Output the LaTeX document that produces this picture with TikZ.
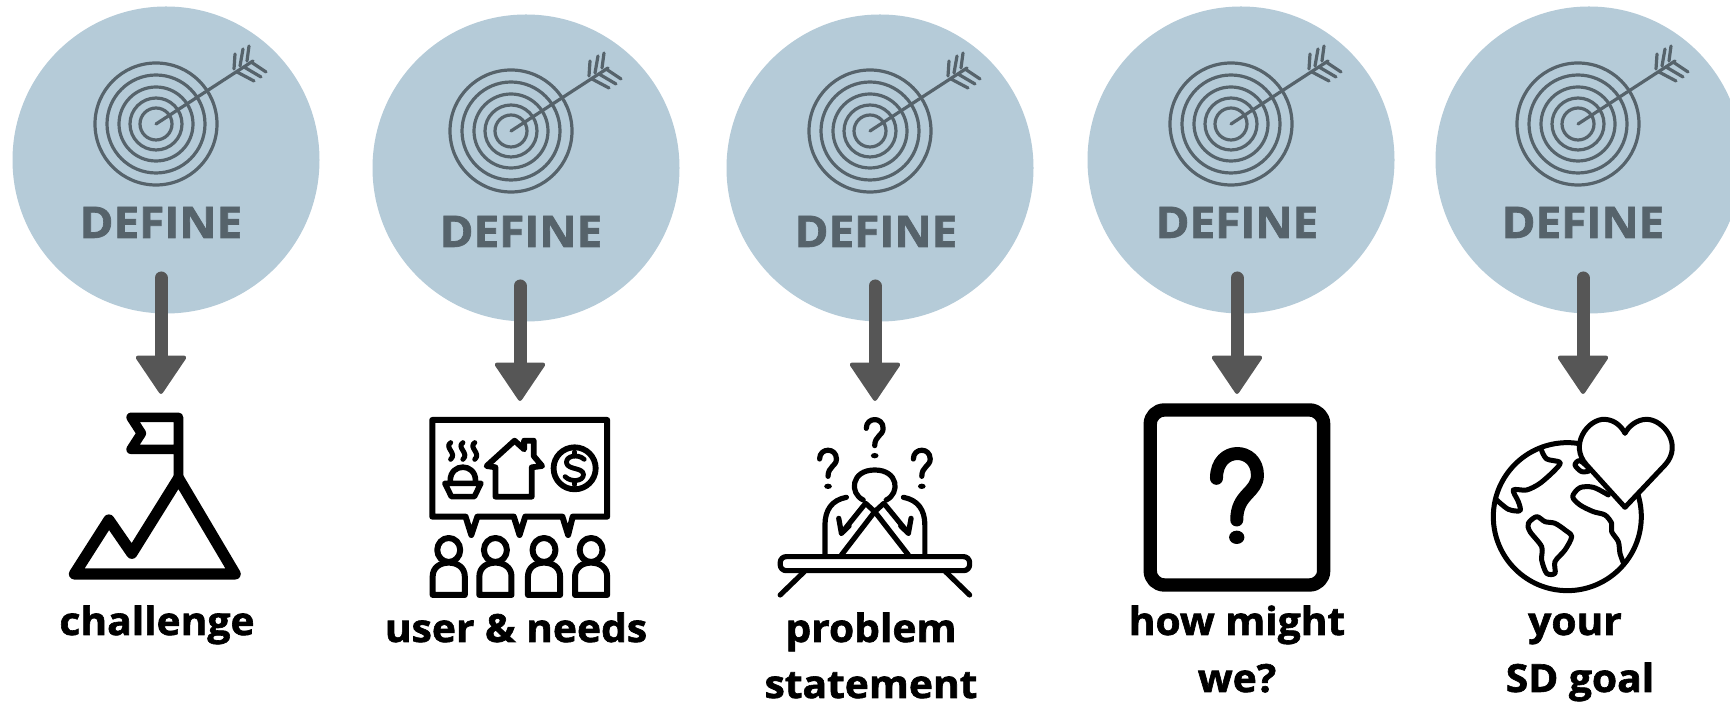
\documentclass[tikz,border=0pt]{standalone}
\usepackage{fontspec}
\setmainfont{Open Sans}[BoldFeatures={FakeBold=1.6,FakeStretch=1.05}]
\usetikzlibrary{arrows.meta}
\definecolor{discblue}{HTML}{B5CBD8}
\definecolor{slate}{HTML}{56636B}
\definecolor{arrowgrey}{HTML}{565656}
\newcommand{\smallquery}[2]{%
  \begin{scope}[shift={(#1,#2)}]
    \draw[ico] (-22,-30) .. controls (-22,-65) and (22,-65) .. (22,-30) .. controls (22,-8) and (0,-8) .. (0,22);
    \fill[black] (0,52) ellipse [x radius=10,y radius=8];
  \end{scope}}
\tikzset{
  disc/.style={circle,fill=discblue,inner sep=0pt,minimum size=153.5pt},
  deflabel/.style={anchor=base,inner sep=0pt,text=slate,font=\fontsize{21.8}{26}\selectfont\bfseries},
  caption/.style={anchor=base,inner sep=0pt,text=black,font=\fontsize{19.4}{22}\selectfont\bfseries},
  ring/.style={draw=slate,line width=1.6pt},
  shaft/.style={draw=arrowgrey,line width=6.5pt,line cap=round,-{Triangle[length=20pt,width=26.5pt,line width=2pt,round,sep=0pt]}},
  ico/.style={draw=black,line cap=round,line join=round},
  zoomA/.style={shift={(40,390)},xscale=0.3827,yscale=0.3333},
  zoomB/.style={shift={(740,390)},xscale=0.3827,yscale=0.3333},
  zoomC/.style={shift={(1430,390)},xscale=0.3333,yscale=0.3333},
}
\begin{document}
\begin{tikzpicture}[x=0.5pt,y=-0.5pt]
\clip (0,0) rectangle (1730,704);
\fill[white] (0,0) rectangle (1730,704);
% discs, targets, labels, arrows
\foreach \i/\cx/\cy/\tx/\ty/\dx/\dy/\ax/\ay/\by in {
  1/166/160/156/124/161/238/161/278/394,
  2/526/168/511/131/521/247/520/286/401,
  3/880/168/870/131/876/247/875/286/401,
  4/1241/160/1231/124/1237/238/1237/278/394,
  5/1589/160/1578/124/1583/238/1583/278/394}{
  \node[disc] (c\i) at (\cx,\cy) {};
  \begin{scope}[shift={(\tx,\ty)}]
    \foreach \r in {61,49,37,26,16}{\draw[ring] (0,0) circle [radius=\r];}
    \draw[ring,line cap=round] (0,0) -- (97,-63);
    \draw[ring,line cap=round] (78,-55) -- (79,-70) (84,-58) -- (87,-75) (91,-63) -- (93,-78);
    \draw[ring,line cap=round] (81,-52) -- (98,-43) (88,-57) -- (105,-47) (95,-62) -- (110,-52);
  \end{scope}
  \node[deflabel] (d\i) at (\dx,\dy) {DEFINE};
  \coordinate (s\i) at (\ax,\ay);
  \coordinate (e\i) at (\ax,\by);
  \draw[shaft] (s\i) -- (e\i);
}
% captions
\node[caption] (t1) at (157,635) {challenge};
\node[caption] (t2) at (516,642) {user \& needs};
\node[caption] (t3a) at (871,642) {problem};
\node[caption] (t3b) at (871,698) {statement};
\node[caption] (t4a) at (1237,635) {how might};
\node[caption] (t4b) at (1237,692) {we?};
\node[caption] (t5a) at (1575,635) {your};
\node[caption] (t5b) at (1580,692) {SD goal};
% mountain
\begin{scope}[zoomA]
  \draw[ico,line width=5.6pt] (90,552) -- (180,390) -- (240,490) -- (362,265) -- (510,552) -- cycle;
  \draw[ico,line width=4.8pt] (362,265) -- (362,82) -- (238,82) -- (265,130) -- (238,178) -- (362,178);
  % speech bubble
  \draw[ico,line width=3pt] (1025,90) -- (1482,90) -- (1482,380) -- (1392,380) -- (1380,435) -- (1365,380)
     -- (1268,380) -- (1253,435) -- (1238,380) -- (1143,380) -- (1127,435) -- (1112,380) -- (1025,380) -- cycle;
  \foreach \p in {1068,1190,1317,1440}{
    \draw[ico,line width=3pt] (\p,480) ellipse [x radius=30,y radius=36];
    \draw[ico,line width=3pt] ({\p-42},615) -- ({\p-42},560) .. controls ({\p-42},532) and ({\p-22},518) .. (\p,518)
       .. controls ({\p+22},518) and ({\p+42},532) .. ({\p+42},560) -- ({\p+42},615) -- cycle;
  }
  % food
  \foreach \q in {1073,1105,1136}{
    \draw[ico,line width=2.5pt] (\q,158) .. controls ({\q-18},172) and ({\q+18},190) .. (\q,208);
  }
  \draw[ico,line width=2.8pt] (1072,272) .. controls (1072,218) and (1138,218) .. (1138,272);
  \draw[ico,line width=2.8pt] (1058,280) -- (1152,280) -- (1135,320) -- (1075,320) -- cycle;
  % house
  \draw[ico,line width=2.9pt] (1190,320) -- (1190,232) -- (1167,228) -- (1240,152) -- (1265,178) -- (1265,152) -- (1290,152)
     -- (1290,198) -- (1312,228) -- (1285,232) -- (1285,320) -- cycle;
  % coin
  \draw[ico,line width=2.9pt] (1397,235) ellipse [x radius=55,y radius=63];
  \draw[ico,line width=2.4pt] (1422,208) .. controls (1405,190) and (1372,198) .. (1376,220) .. controls (1380,240) and (1420,232) .. (1420,254)
     .. controls (1420,274) and (1388,278) .. (1372,260);
  \draw[ico,line width=2.4pt] (1397,186) -- (1397,198) (1397,272) -- (1397,284);
\end{scope}
% head on desk
\begin{scope}[zoomB]
  \tikzset{ico/.append style={line width=2.6pt}}
  \smallquery{352}{145}
  \smallquery{230}{237}
  \smallquery{475}{237}
  \draw[ico] (322,330) .. controls (285,310) and (290,240) .. (352,240) .. controls (414,240) and (419,310) .. (382,330);
  \draw[ico] (278,322) .. controls (240,330) and (222,360) .. (222,405) -- (222,495);
  \draw[ico] (427,322) .. controls (465,330) and (483,360) .. (483,405) -- (483,495);
  \draw[ico] (265,495) -- (352,365) -- (328,340) -- (265,430) -- (258,385);
  \draw[ico] (440,495) -- (352,365) -- (376,340) -- (440,430) -- (447,385);
  \draw[ico] (265,430) -- (285,408);
  \draw[ico] (440,430) -- (420,408);
  \draw[ico,rounded corners=3pt] (105,500) rectangle (600,542);
  \draw[ico] (168,545) -- (105,615);
  \draw[ico] (537,545) -- (600,615);
  % question box
  \draw[ico,line width=6.7pt,rounded corners=7pt] (1072,60) rectangle (1525,585);
  \draw[ico,line width=6.5pt] (1245,265) .. controls (1245,165) and (1352,170) .. (1352,255) .. controls (1352,310) and (1298,310) .. (1298,390);
  \fill[black] (1298,442) ellipse [x radius=20,y radius=20];
\end{scope}
% globe
\begin{scope}[zoomC]
  \tikzset{ico/.append style={line width=2.5pt}}
  \draw[ico] (412,380) circle [radius=222];
  \draw[ico] plot[smooth] coordinates {(335,182) (350,207) (390,217) (375,240) (330,280) (290,300) (250,300) (265,335) (270,362) (235,358) (200,330)};
  \draw[ico] plot[smooth cycle] coordinates {(320,380) (345,395) (375,400) (405,420) (425,440) (405,480) (375,515) (375,550) (350,550) (335,510) (335,470) (300,425) (295,400)};
  \draw[ico] plot[smooth] coordinates {(535,315) (490,292) (450,293) (428,320) (450,345) (490,365) (525,375) (545,400) (545,425) (565,455) (570,490) (580,518)};
  \draw[ico] plot[smooth cycle] coordinates {(435,225) (450,212) (480,240) (455,245)};
  \draw[ico,fill=white] (585,352) -- (470,225) .. controls (415,165) and (475,85) .. (525,88) .. controls (555,90) and (575,110) .. (585,130)
     .. controls (595,110) and (620,88) .. (650,88) .. controls (700,88) and (760,165) .. (705,225) -- cycle;
\end{scope}
\end{tikzpicture}
\end{document}
